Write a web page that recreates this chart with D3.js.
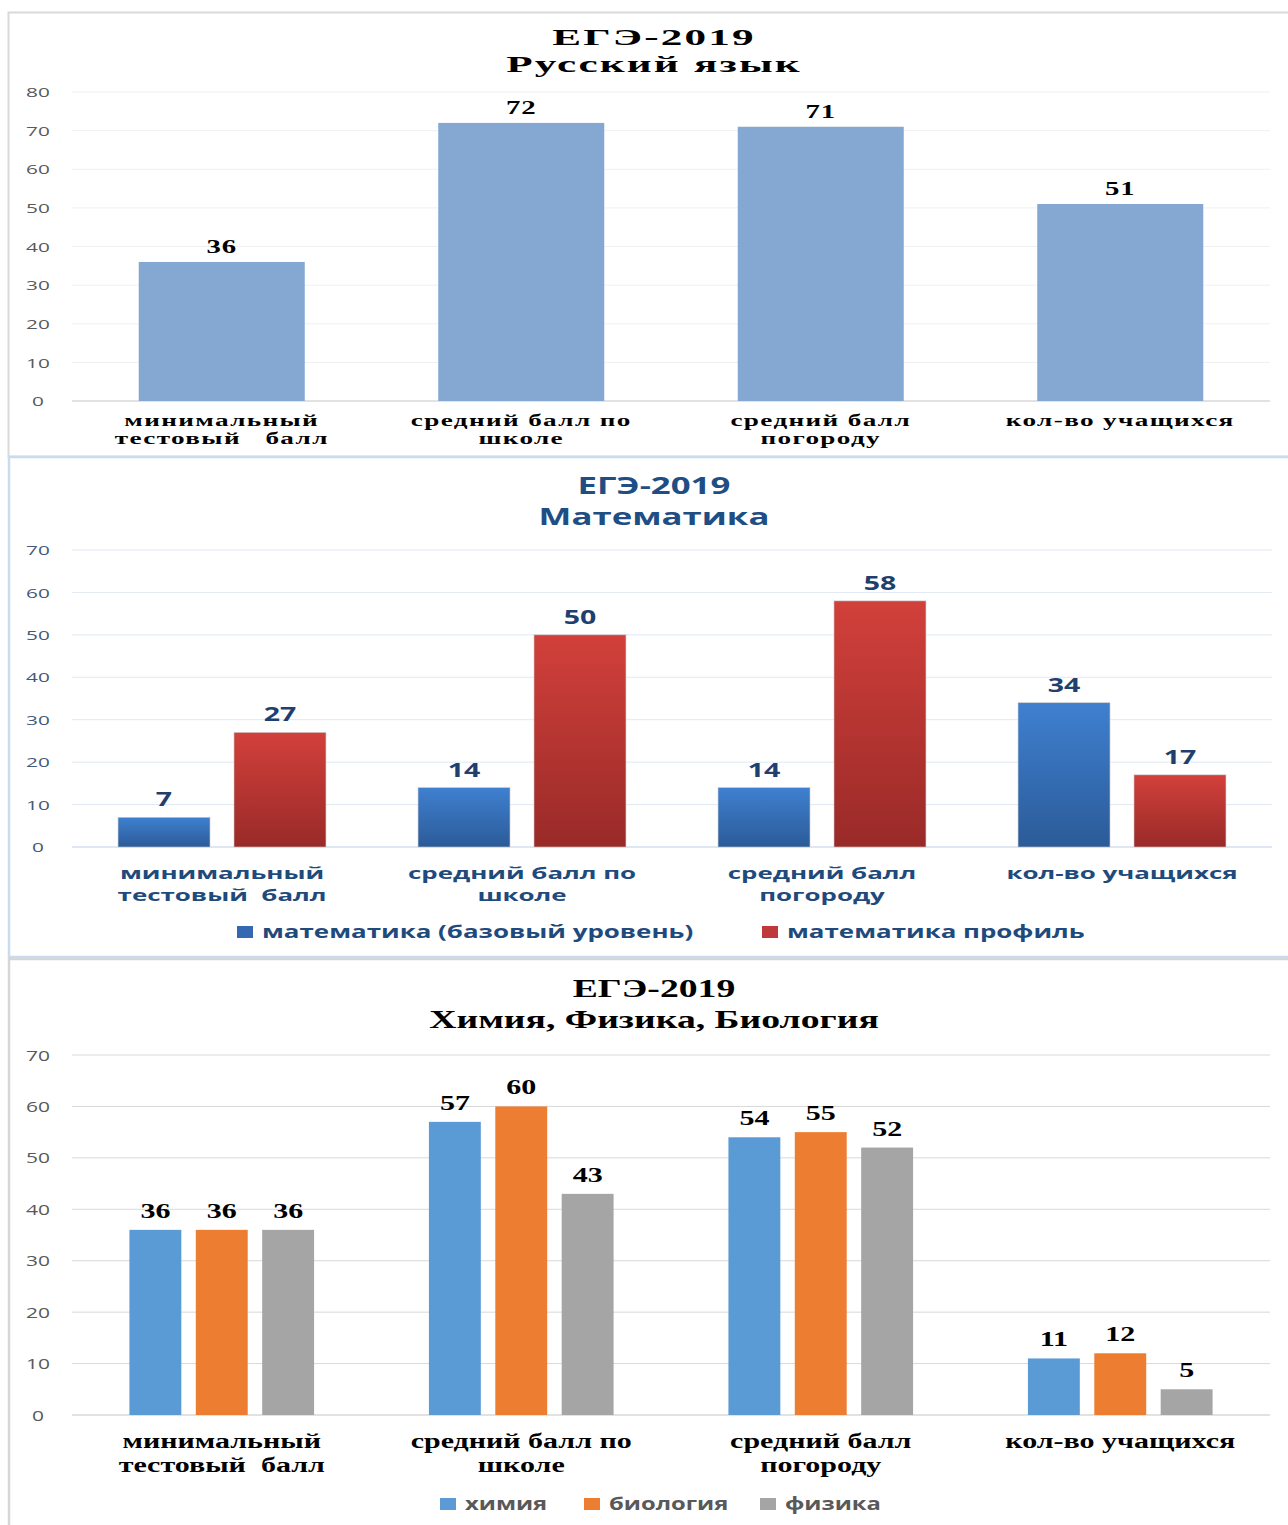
<!DOCTYPE html>
<html>
<head>
<meta charset="utf-8">
<script src="https://cdn.jsdelivr.net/npm/d3@7"></script>
<style>
  body { margin: 0; background: #fff; }
  text { white-space: pre; }
  .serif { font-family: "Liberation Serif", "DejaVu Serif", serif; font-weight: bold; }
  .sans { font-family: "Open Sans", "DejaVu Sans", sans-serif; font-weight: bold; }
  .tick-lbl { font-family: "Open Sans", "Liberation Sans", sans-serif; font-weight: normal; }
</style>
</head>
<body>
<svg id="chart" width="1288" height="1525"></svg>
<script>
// ---- data ----
const categories = ['минимальный\nтестовый   балл', 'средний балл по\nшколе', 'средний балл\nпогороду', 'кол-во учащихся'];
const mathCategories = ['минимальный\nтестовый  балл', 'средний балл по\nшколе', 'средний балл\nпогороду', 'кол-во учащихся'];
const sciCategories = ['минимальный\nтестовый  балл', 'средний балл по\nшколе', 'средний балл\nпогороду', 'кол-во учащихся'];

const russianScores = [36, 72, 71, 51];

const mathSeries = ['математика (базовый уровень)', 'математика профиль'];
const mathBase = [7, 14, 14, 34];
const mathProfile = [27, 50, 58, 17];

const sciSeries = ['химия', 'биология', 'физика'];
const chemistry = [36, 57, 54, 11];
const biology = [36, 60, 55, 12];
const physics = [36, 43, 52, 5];

const ticksRus = [0, 10, 20, 30, 40, 50, 60, 70, 80];
const ticksMath = [0, 10, 20, 30, 40, 50, 60, 70];
const ticksSci = [0, 10, 20, 30, 40, 50, 60, 70];

const svg = d3.select('#chart');

// text helper: the picture is stretched sideways, so each label gets a horizontal scale
function sText(parent, x, y, str, cls, size, fill, sx, anchor = 'middle', spacing = 0) {
  return parent.append('text')
    .attr('class', cls)
    .attr('transform', `translate(${x},${y}) scale(${sx},1)`)
    .attr('text-anchor', anchor)
    .attr('font-size', size)
    .attr('letter-spacing', spacing)
    .attr('fill', fill)
    .text(str);
}

// panel frames
svg.append('rect').attr('x', 8.5).attr('y', 12.5).attr('width', 1290).attr('height', 444)
  .attr('fill', 'none').attr('stroke', '#d9d9d9').attr('stroke-width', 2);
svg.append('rect').attr('x', 9).attr('y', 457).attr('width', 1290).attr('height', 500)
  .attr('fill', 'none').attr('stroke', '#c9dbef').attr('stroke-width', 2.5);
svg.append('rect').attr('x', 9).attr('y', 959).attr('width', 1290).attr('height', 580)
  .attr('fill', 'none').attr('stroke', '#d6d6d6').attr('stroke-width', 2.5);

const defs = svg.append('defs');
function grad(id, top, bottom) {
  const g = defs.append('linearGradient').attr('id', id)
    .attr('x1', 0).attr('y1', 0).attr('x2', 0).attr('y2', 1);
  g.append('stop').attr('offset', '0%').attr('stop-color', top);
  g.append('stop').attr('offset', '100%').attr('stop-color', bottom);
}
grad('gBlue', '#3f80d0', '#2b5b98');
grad('gRed', '#d2403b', '#992a28');

function drawChart(cfg) {
  const g = svg.append('g');
  const x0 = d3.scaleBand().domain(cfg.categories).range(cfg.xRange).padding(0);
  const x1 = d3.scaleBand().domain(cfg.series).range([0, x0.bandwidth()])
    .paddingInner(cfg.padIn).paddingOuter(cfg.padOut);
  const y = d3.scaleLinear().domain([0, d3.max(cfg.ticks)]).range(cfg.yRange);

  // grid
  g.selectAll('.grid').data(cfg.ticks).join('line')
    .attr('x1', cfg.xRange[0]).attr('x2', cfg.xRange[1])
    .attr('y1', d => y(d)).attr('y2', d => y(d))
    .attr('stroke', d => d === 0 ? cfg.baseColor : cfg.gridColor)
    .attr('stroke-width', d => d === 0 ? 1.5 : 1);

  // y axis labels via d3 axis
  const ax = g.append('g').call(d3.axisLeft(y).tickValues(cfg.ticks).tickSize(0).tickFormat(d3.format('d')));
  ax.select('.domain').remove();
  ax.selectAll('text')
    .attr('class', 'tick-lbl')
    .attr('x', null).attr('dy', null)
    .attr('transform', `translate(38,${cfg.tickSize * 0.36}) scale(${cfg.tickSx},1)`)
    .attr('text-anchor', 'middle')
    .attr('font-size', cfg.tickSize)
    .attr('fill', cfg.tickColor);

  // bars
  cfg.values.forEach((vals, si) => {
    const s = cfg.series[si];
    g.selectAll(null).data(vals).join('rect')
      .attr('x', (d, i) => x0(cfg.categories[i]) + x1(s))
      .attr('width', x1.bandwidth())
      .attr('y', d => y(d))
      .attr('height', d => y(0) - y(d))
      .attr('fill', cfg.colors[si])
      .attr('stroke', cfg.barStroke || 'none')
      .attr('stroke-width', 0.6);
    vals.forEach((d, i) => {
      sText(g, x0(cfg.categories[i]) + x1(s) + x1.bandwidth() / 2, y(d) - cfg.labelGap, String(d),
        cfg.font, cfg.labelSize, cfg.labelColor, cfg.labelSx, 'middle', cfg.labelSpacing || 0);
    });
  });

  // category labels
  cfg.categories.forEach(c => {
    c.split('\n').forEach((line, li) => {
      sText(g, x0(c) + x0.bandwidth() / 2, cfg.catY + li * cfg.catLine, line,
        cfg.font, cfg.catSize, cfg.catColor, cfg.catSx, 'middle', cfg.catSpacing || 0);
    });
  });

  // title
  cfg.title.forEach((t, i) => {
    sText(g, 654, cfg.titleY + i * cfg.titleLine, t, cfg.font, cfg.titleSize, cfg.titleColor,
      cfg.titleSx, 'middle', cfg.titleSpacing || 0);
  });

  // legend
  if (cfg.legendX) {
    cfg.series.forEach((s, i) => {
      g.append('rect').attr('x', cfg.legendX[i]).attr('y', cfg.legendY - 12)
        .attr('width', 16).attr('height', 12).attr('fill', cfg.legendColors[i]);
      sText(g, cfg.legendX[i] + 25, cfg.legendY, s, 'sans', cfg.legendSize, cfg.legendColor,
        cfg.legendSx, 'start');
    });
  }
}

// Russian
drawChart({
  categories: categories, series: ['русский'], values: [russianScores],
  colors: ['#85a8d2'], xRange: [72, 1270], yRange: [401, 92], ticks: ticksRus,
  padIn: 0, padOut: 0.402,
  gridColor: '#f0f0f0', baseColor: '#d9d9d9',
  tickSize: 13, tickSx: 1.6, tickColor: '#595959',
  font: 'serif', labelSize: 18, labelSx: 1.6, labelSpacing: 0.5, labelColor: '#000', labelGap: 9,
  catY: 426, catLine: 18, catSize: 16, catSx: 1.7, catSpacing: 0.8, catColor: '#000',
  title: ['ЕГЭ-2019', 'Русский язык'], titleY: 45, titleLine: 27, titleSize: 24,
  titleSx: 1.8, titleSpacing: 1.2, titleColor: '#000'
});

// Math
drawChart({
  categories: mathCategories, series: mathSeries, values: [mathBase, mathProfile],
  colors: ['url(#gBlue)', 'url(#gRed)'], xRange: [72, 1272], yRange: [847, 550], ticks: ticksMath,
  padIn: 0.207, padOut: 0.397, barStroke: '#c9c9c9',
  gridColor: '#dfe8f3', baseColor: '#d4e0ee',
  tickSize: 13, tickSx: 1.6, tickColor: '#44597a',
  font: 'sans', labelSize: 19, labelSx: 1.5, labelColor: '#1f3f6e', labelGap: 11,
  catY: 879, catLine: 22, catSize: 16, catSx: 1.62, catColor: '#1f4a7c',
  title: ['ЕГЭ-2019', 'Математика'], titleY: 494, titleLine: 31, titleSize: 24,
  titleSx: 1.45, titleColor: '#1f4e85',
  legendX: [237, 762], legendY: 938, legendSize: 18, legendSx: 1.44, legendColor: '#1f4a7c',
  legendColors: ['#3468b0', '#c0393a']
});

// Sciences
drawChart({
  categories: sciCategories, series: sciSeries, values: [chemistry, biology, physics],
  colors: ['#5b9bd5', '#ed7d31', '#a5a5a5'], xRange: [72, 1270], yRange: [1415, 1055], ticks: ticksSci,
  padIn: 0.218, padOut: 0.865,
  gridColor: '#d9d9d9', baseColor: '#d9d9d9',
  tickSize: 14, tickSx: 1.5, tickColor: '#595959',
  font: 'serif', labelSize: 20, labelSx: 1.5, labelColor: '#000', labelGap: 12,
  catY: 1448, catLine: 24, catSize: 20, catSx: 1.5, catColor: '#000',
  title: ['ЕГЭ-2019', 'Химия, Физика, Биология'], titleY: 997, titleLine: 31, titleSize: 26,
  titleSx: 1.45, titleColor: '#000',
  legendX: [440, 584, 760], legendY: 1510, legendSize: 17, legendSx: 1.4, legendColor: '#595959',
  legendColors: ['#5b9bd5', '#ed7d31', '#a5a5a5']
});
</script>
</body>
</html>
